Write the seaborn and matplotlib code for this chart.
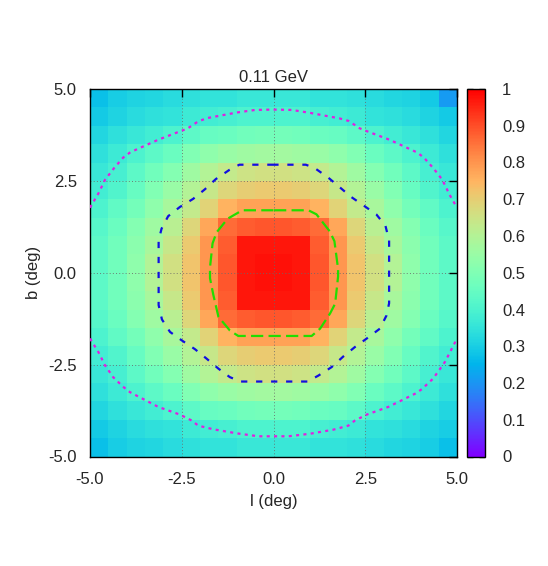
import numpy as np
import pandas as pd
import matplotlib
matplotlib.use("Agg")
import matplotlib.pyplot as plt
import seaborn as sns

# ---------------- data ----------------
l_centers = [-4.75, -4.25, -3.75, -3.25, -2.75, -2.25, -1.75, -1.25, -0.75, -0.25,
             0.25, 0.75, 1.25, 1.75, 2.25, 2.75, 3.25, 3.75, 4.25, 4.75]
b_centers = [4.75, 4.25, 3.75, 3.25, 2.75, 2.25, 1.75, 1.25, 0.75, 0.25,
             -0.25, -0.75, -1.25, -1.75, -2.25, -2.75, -3.25, -3.75, -4.25, -4.75]

intensity = [
    [0.27, 0.30, 0.31, 0.32, 0.33, 0.34, 0.35, 0.35, 0.36, 0.36, 0.36, 0.36, 0.35, 0.35, 0.34, 0.33, 0.32, 0.31, 0.29, 0.21],
    [0.29, 0.31, 0.33, 0.34, 0.35, 0.37, 0.38, 0.39, 0.40, 0.40, 0.40, 0.40, 0.39, 0.38, 0.37, 0.35, 0.34, 0.33, 0.31, 0.29],
    [0.32, 0.34, 0.36, 0.38, 0.40, 0.43, 0.45, 0.46, 0.47, 0.48, 0.48, 0.47, 0.46, 0.45, 0.43, 0.40, 0.38, 0.36, 0.34, 0.32],
    [0.34, 0.37, 0.40, 0.43, 0.46, 0.50, 0.53, 0.55, 0.56, 0.57, 0.57, 0.56, 0.55, 0.53, 0.50, 0.46, 0.43, 0.40, 0.37, 0.34],
    [0.36, 0.39, 0.43, 0.47, 0.51, 0.56, 0.60, 0.63, 0.65, 0.66, 0.66, 0.65, 0.63, 0.60, 0.56, 0.51, 0.47, 0.43, 0.39, 0.36],
    [0.38, 0.41, 0.45, 0.50, 0.55, 0.60, 0.64, 0.68, 0.70, 0.71, 0.71, 0.70, 0.68, 0.64, 0.60, 0.55, 0.50, 0.45, 0.41, 0.38],
    [0.40, 0.44, 0.48, 0.53, 0.58, 0.63, 0.69, 0.75, 0.78, 0.78, 0.78, 0.78, 0.75, 0.69, 0.63, 0.58, 0.53, 0.48, 0.44, 0.40],
    [0.42, 0.46, 0.51, 0.56, 0.61, 0.68, 0.77, 0.86, 0.88, 0.89, 0.89, 0.88, 0.86, 0.77, 0.68, 0.61, 0.56, 0.51, 0.46, 0.42],
    [0.43, 0.47, 0.52, 0.58, 0.64, 0.71, 0.80, 0.88, 0.97, 0.97, 0.97, 0.97, 0.88, 0.80, 0.71, 0.64, 0.58, 0.52, 0.47, 0.43],
    [0.43, 0.47, 0.53, 0.60, 0.66, 0.72, 0.80, 0.89, 0.97, 0.98, 0.98, 0.97, 0.89, 0.80, 0.72, 0.66, 0.60, 0.53, 0.47, 0.43],
    [0.43, 0.47, 0.53, 0.60, 0.66, 0.72, 0.80, 0.89, 0.97, 0.98, 0.98, 0.97, 0.89, 0.80, 0.72, 0.66, 0.60, 0.53, 0.47, 0.43],
    [0.43, 0.47, 0.52, 0.58, 0.64, 0.71, 0.80, 0.88, 0.97, 0.97, 0.97, 0.97, 0.88, 0.80, 0.71, 0.64, 0.58, 0.52, 0.47, 0.43],
    [0.42, 0.46, 0.51, 0.56, 0.61, 0.68, 0.77, 0.86, 0.88, 0.89, 0.89, 0.88, 0.86, 0.77, 0.68, 0.61, 0.56, 0.51, 0.46, 0.42],
    [0.40, 0.44, 0.48, 0.53, 0.58, 0.63, 0.69, 0.75, 0.78, 0.78, 0.78, 0.78, 0.75, 0.69, 0.63, 0.58, 0.53, 0.48, 0.44, 0.40],
    [0.38, 0.41, 0.45, 0.50, 0.55, 0.60, 0.64, 0.68, 0.70, 0.71, 0.71, 0.70, 0.68, 0.64, 0.60, 0.55, 0.50, 0.45, 0.41, 0.38],
    [0.36, 0.39, 0.43, 0.47, 0.51, 0.56, 0.60, 0.63, 0.65, 0.66, 0.66, 0.65, 0.63, 0.60, 0.56, 0.51, 0.47, 0.43, 0.39, 0.36],
    [0.34, 0.37, 0.40, 0.43, 0.46, 0.50, 0.53, 0.55, 0.56, 0.57, 0.57, 0.56, 0.55, 0.53, 0.50, 0.46, 0.43, 0.40, 0.37, 0.34],
    [0.32, 0.34, 0.36, 0.38, 0.40, 0.43, 0.45, 0.46, 0.47, 0.48, 0.48, 0.47, 0.46, 0.45, 0.43, 0.40, 0.38, 0.36, 0.34, 0.32],
    [0.29, 0.31, 0.33, 0.34, 0.35, 0.37, 0.38, 0.39, 0.40, 0.40, 0.40, 0.40, 0.39, 0.38, 0.37, 0.35, 0.34, 0.33, 0.31, 0.30],
    [0.27, 0.30, 0.31, 0.32, 0.33, 0.34, 0.35, 0.35, 0.36, 0.36, 0.36, 0.36, 0.35, 0.35, 0.34, 0.33, 0.32, 0.31, 0.30, 0.27],
]

# contour lines (l, b)
magenta_upper_l = [-5.0, -4.77, -4.59, -4.35, -4.10, -3.90, -3.14, -2.57, -2.35, -2.05, -1.80, -1.00, -0.50, 0.0,
                   0.50, 1.00, 1.80, 2.05, 2.35, 2.60, 3.16, 3.92, 4.10, 4.36, 4.60, 4.80, 5.0]
magenta_upper_b = [1.77, 2.16, 2.53, 2.84, 3.13, 3.28, 3.62, 3.84, 3.92, 4.12, 4.21, 4.36, 4.43, 4.44,
                   4.43, 4.35, 4.20, 4.13, 3.93, 3.83, 3.62, 3.27, 3.13, 2.84, 2.53, 2.12, 1.77]
magenta_lower_l = [-5.0, -4.77, -4.59, -4.37, -4.10, -3.91, -3.14, -2.55, -2.23, -2.05, -1.64, -1.00, -0.41, 0.0,
                   0.41, 1.00, 1.63, 2.04, 2.22, 2.54, 3.13, 3.86, 4.04, 4.35, 4.67, 4.81, 5.0]
magenta_lower_b = [-1.79, -2.16, -2.52, -2.84, -3.10, -3.25, -3.65, -3.86, -4.02, -4.16, -4.26, -4.37, -4.45, -4.45,
                   -4.45, -4.38, -4.27, -4.16, -4.02, -3.86, -3.65, -3.29, -3.17, -2.88, -2.43, -2.16, -1.79]
blue_l = [0.0, -0.93, -1.20, -1.57, -1.87, -2.19, -2.55, -2.87, -3.05, -3.13, -3.13, -3.04, -2.82, -2.50, -2.14,
          -1.82, -1.50, -1.19, -0.90, 0.0, 0.93, 1.22, 1.58, 1.90, 2.22, 2.54, 2.90, 3.08, 3.15, 3.15, 3.05, 2.80,
          2.44, 2.12, 1.80, 1.49, 1.12, 0.88, 0.0]
blue_b = [2.94, 2.94, 2.80, 2.55, 2.27, 2.01, 1.79, 1.54, 1.20, 0.88, -0.88, -1.27, -1.61, -1.84, -2.08,
          -2.34, -2.61, -2.84, -2.96, -2.96, -2.96, -2.80, -2.57, -2.28, -2.02, -1.79, -1.52, -1.16, -0.83, 0.88,
          1.28, 1.59, 1.84, 2.06, 2.33, 2.59, 2.85, 2.94, 2.94]
green_l = [0.0, -0.85, -1.25, -1.55, -1.66, -1.73, -1.73, -1.64, -1.50, -1.19, -0.96, 0.0, 1.04, 1.27,
           1.54, 1.68, 1.76, 1.76, 1.66, 1.53, 1.17, 0.95, 0.0]
green_b = [1.70, 1.70, 1.47, 1.10, 0.80, 0.15, -0.15, -0.60, -1.20, -1.57, -1.72, -1.72, -1.72, -1.52,
           -1.11, -0.84, -0.10, 0.10, 0.86, 1.13, 1.59, 1.70, 1.70]

axis_ticks = [-5.0, -2.5, 0.0, 2.5, 5.0]
axis_ticklabels = ["-5.0", "-2.5", "0.0", "2.5", "5.0"]
cbar_ticks = [0.0, 0.1, 0.2, 0.3, 0.4, 0.5, 0.6, 0.7, 0.8, 0.9, 1.0]
cbar_ticklabels = ["0", "0.1", "0.2", "0.3", "0.4", "0.5", "0.6", "0.7", "0.8", "0.9", "1"]
title_text = "0.11 GeV"
xlabel_text = "l (deg)"
ylabel_text = "b (deg)"

# ---------------- style ----------------
sns.set_style("white")
plt.rcParams["font.family"] = ["Liberation Sans", "DejaVu Sans"]
plt.rcParams["font.size"] = 12
plt.rcParams["lines.scale_dashes"] = False

W, H = 548, 566
fig = plt.figure(figsize=(W / 100, H / 100), dpi=100)
rect = [90 / W, 1 - 456.5 / H, 367 / W, 367.5 / H]
ax = fig.add_axes(rect)
cax = fig.add_axes([467 / W, 1 - 456.5 / H, 18.3 / W, 367.5 / H])

df = pd.DataFrame(intensity, index=b_centers, columns=l_centers)
sns.heatmap(df, ax=ax, cbar_ax=cax, cmap="rainbow", vmin=0, vmax=1,
            xticklabels=False, yticklabels=False, linewidths=0,
            cbar_kws={"ticks": cbar_ticks})
ax.set_xlabel("")
ax.set_ylabel("")
for c in ax.collections:
    c.set_antialiased(False)

# overlay axes in data coordinates
ov = fig.add_axes(rect)
ov.set_facecolor("none")
ov.set_xlim(-5, 5)
ov.set_ylim(-5, 5)
ov.set_xticks(axis_ticks)
ov.set_xticklabels(axis_ticklabels)
ov.set_yticks(axis_ticks)
ov.set_yticklabels(axis_ticklabels)
ov.tick_params(axis="both", direction="in", length=6, width=1, color="black",
               top=True, right=True, labelsize=12)
ov.tick_params(axis="x", pad=11)
ov.tick_params(axis="y", pad=9.5)
ov.grid(True, color="#6a6a6a", linewidth=0.6, linestyle=(0, (0.7, 1.6)))
for s in ov.spines.values():
    s.set_color("black")
    s.set_linewidth(1.0)
    s.set_visible(True)

ov.plot(magenta_upper_l, magenta_upper_b, color="#e020e0", lw=1.6, linestyle=(0, (2.2, 3.1)), zorder=3)
ov.plot(magenta_lower_l, magenta_lower_b, color="#e020e0", lw=1.6, linestyle=(0, (2.2, 3.1)), zorder=3)
ov.plot(blue_l, blue_b, color="#1010e0", lw=1.6, linestyle=(0, (4.5, 6.3)), zorder=3)
ov.plot(green_l, green_b, color="#22dd00", lw=1.6, linestyle=(0, (8.8, 3.8)), zorder=3)

ov.set_title(title_text, fontsize=12, pad=5)
ov.set_xlabel(xlabel_text, fontsize=12, labelpad=5)
ov.set_ylabel(ylabel_text, fontsize=12, labelpad=5)

# colorbar
cbar = ax.collections[0].colorbar
cbar.set_ticks(cbar_ticks)
cbar.set_ticklabels(cbar_ticklabels)
cax.tick_params(direction="in", length=4, width=1, color="#333333", left=True, right=True,
                labelsize=12, pad=12)
cbar.outline.set_edgecolor("black")
cbar.outline.set_linewidth(1.0)

fig.savefig("out.png", dpi=100)
